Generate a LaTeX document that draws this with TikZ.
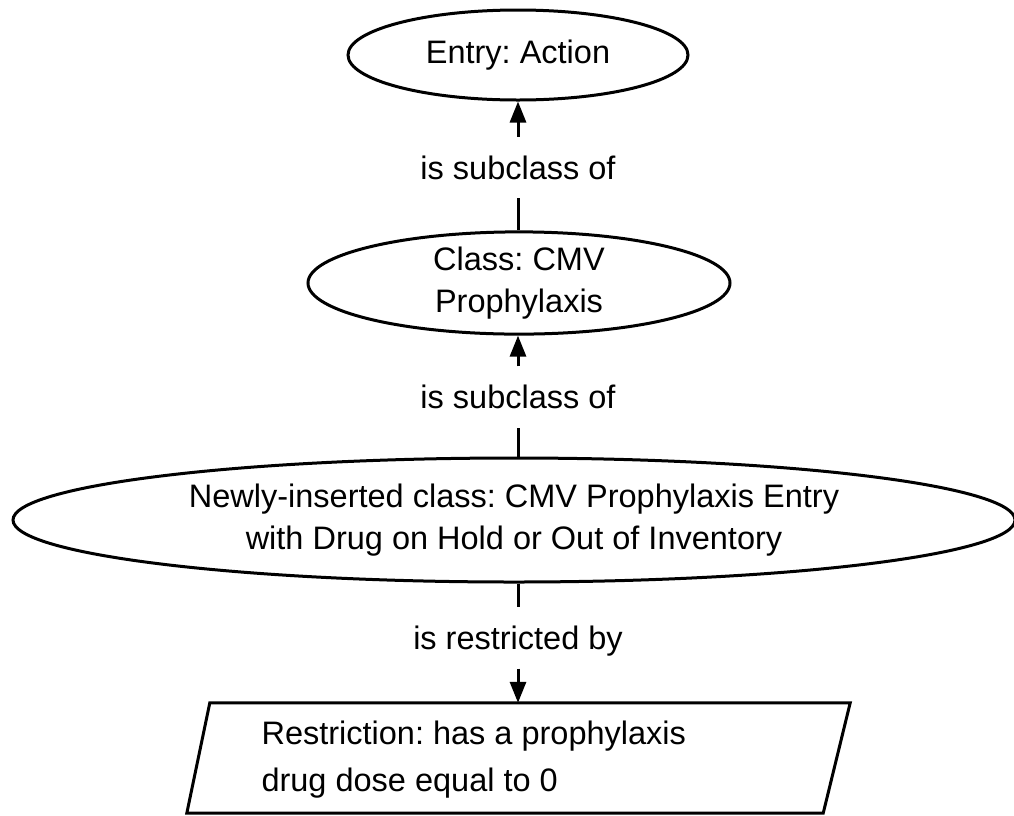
\documentclass[tikz,border=0pt]{standalone}
\usepackage{fontspec}
\setmainfont{Liberation Sans}
\usetikzlibrary{shapes.geometric,arrows.meta,calc}
\frenchspacing
\begin{document}
\begin{tikzpicture}[x=1pt,y=-1pt,
  every node/.style={font=\fontsize{32.5}{42}\selectfont},
  concept/.style={ellipse,draw,line width=3pt,inner sep=0pt,align=center},
  rel/.style={inner sep=0pt,minimum height=61pt,text height=23pt,text depth=0pt},
  link/.style={line width=3pt},
  arr/.style={link,-{Triangle[length=21pt,width=16pt]}}]
  \useasboundingbox (0,0) rectangle (1014,815);

  % class nodes
  \node[concept,minimum width=340pt,minimum height=90pt] (e1) at (518,55) {Entry: Action};
  \node[concept,minimum width=422pt,minimum height=96pt] (e2) at (519,283) {Class: CMV\\Prophylaxis};
  \node[concept,minimum width=1002pt,minimum height=124pt] (e3) at (514,520)
    {Newly-inserted class: CMV Prophylaxis Entry\\with Drug on Hold or Out of Inventory};

  % restriction box (parallelogram)
  \node[minimum width=663pt,minimum height=110pt,inner sep=0pt] (restr) at (518.5,758) {};
  \draw[link,line join=miter]
    ($(restr.north west)+(23,0)$) -- (restr.north east)
    -- ($(restr.south east)+(-27,0)$) -- (restr.south west) -- cycle;
  \node[anchor=west,align=left,font=\fontsize{32.5}{47}\selectfont] (restrtext) at (258,760)
    {Restriction: has a prophylaxis\\drug dose equal to 0};

  % relation labels
  \node[rel] (lab1) at (518,167.5) {is subclass of};
  \node[rel] (lab2) at (518,397) {is subclass of};
  \node[rel] (lab3) at (518,638) {is restricted by};

  % connectors
  \draw[link] (e2.north -| lab1) -- (lab1.south);
  \draw[arr] (lab1.north) -- (e1.south -| lab1);
  \draw[link] (e3.north -| lab2) -- (lab2.south);
  \draw[arr] (lab2.north) -- (e2.south -| lab2);
  \draw[link] (e3.south -| lab3) -- (lab3.north);
  \draw[arr] (lab3.south) -- (restr.north -| lab3);
\end{tikzpicture}
\end{document}
